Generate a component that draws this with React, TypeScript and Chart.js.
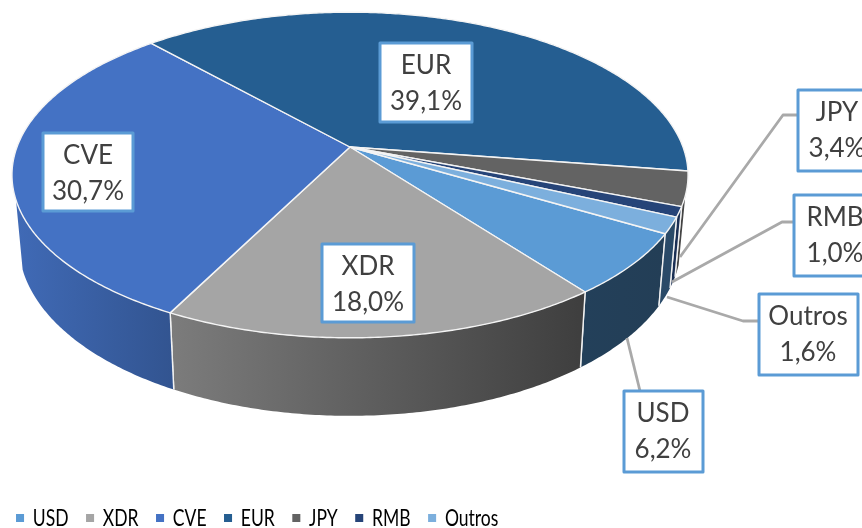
import React, { useEffect, useRef } from "react";
import { Chart, registerables } from "chart.js";

Chart.register(...registerables);

const categories = ["USD", "XDR", "CVE", "EUR", "JPY", "RMB", "Outros"];
const shares = [6.2, 18.0, 30.7, 39.1, 3.4, 1.0, 1.6];
const valueLabels = ["6,2%", "18,0%", "30,7%", "39,1%", "3,4%", "1,0%", "1,6%"];
const faceColors = ["#5B9BD5", "#A5A5A5", "#4472C4", "#255E91", "#636363", "#264478", "#7CAFDD"];
const wallLeftColors = ["#23405A", "#7C7C7C", "#406AB6", "#1C4870", "#444444", "#1A2F54", "#2A4A68"];
const wallRightColors = ["#233E56", "#3E3E3E", "#325490", "#1C4870", "#444444", "#1A2F54", "#2A4A68"];

const labelFont = "26px Lato, sans-serif";
const labelBoxes = [
  { i: 0, x: 624, y: 391, w: 79, h: 81, tx: 663, leader: [[627, 338], [640, 391]] },
  { i: 1, x: 322, y: 244, w: 92, h: 78, tx: 368, leader: [] },
  { i: 2, x: 43, y: 133, w: 90, h: 78, tx: 88, leader: [] },
  { i: 3, x: 380, y: 43, w: 92, h: 79, tx: 426, leader: [] },
  { i: 4, x: 798, y: 90, w: 80, h: 81, tx: 837, leader: [[680, 257], [783, 115], [798, 115]] },
  { i: 5, x: 794, y: 195, w: 80, h: 81, tx: 835, leader: [[672, 282], [782, 222], [794, 222]] },
  { i: 6, x: 759, y: 294, w: 99, h: 81, tx: 808, leader: [[667, 297], [743, 321], [759, 321]] },
];

// Projection of the pie plane
const CX = 350;
const CY = 147;
const RX = 333;
const RY = 158;
const K = 0.172;
const WALL_FROM = (17 * Math.PI) / 180;
const WALL_TO = (161.5 * Math.PI) / 180;
// The reference's legend type is tall and narrow
const LEGEND_SQUEEZE = 0.73;

function topPoint(a: number): [number, number] {
  const u = Math.cos(a);
  const v = Math.sin(a);
  const w = 1 - K * v;
  return [CX + (RX * u) / w, CY + (RY * v) / w];
}
function bottomPoint(a: number): [number, number] {
  const [x, y] = topPoint(a);
  const v = Math.sin(a);
  return [CX + (x - CX) * 0.98, y + 66 + 12 * v];
}

const pie3d = {
  id: "pie3d",
  afterLayout(chart: any) {
    const legend = chart.legend;
    legend.top = 482;
    legend.bottom = legend.top + legend.height;
    if (!legend.__squeezed) {
      legend.__squeezed = true;
      const draw = legend.draw;
      legend.draw = function (...args: any[]) {
        const ctx = chart.ctx;
        ctx.save();
        ctx.translate(-1.5, 0);
        ctx.scale(LEGEND_SQUEEZE, 1);
        draw.apply(legend, args);
        ctx.restore();
      };
    }
  },
  beforeDatasetsDraw(chart: any) {
    const ctx: CanvasRenderingContext2D = chart.ctx;
    const arcs = chart.getDatasetMeta(0).data;

    // side walls
    arcs.forEach((arc: any, i: number) => {
      for (const off of [0, -2 * Math.PI]) {
        const s = Math.max(arc.startAngle + off, WALL_FROM);
        const e = Math.min(arc.endAngle + off, WALL_TO);
        if (e <= s) continue;
        const n = Math.max(2, Math.ceil((e - s) / 0.01));
        const top: [number, number][] = [];
        const bot: [number, number][] = [];
        for (let j = 0; j <= n; j++) {
          const a = s + ((e - s) * j) / n;
          top.push(topPoint(a));
          bot.push(bottomPoint(a));
        }
        const xs = top.concat(bot).map((p) => p[0]);
        const g = ctx.createLinearGradient(Math.min(...xs), 0, Math.max(...xs), 0);
        g.addColorStop(0, wallLeftColors[i]);
        g.addColorStop(1, wallRightColors[i]);
        ctx.beginPath();
        top.forEach((p, j) => (j ? ctx.lineTo(p[0], p[1]) : ctx.moveTo(p[0], p[1])));
        bot.reverse().forEach((p) => ctx.lineTo(p[0], p[1]));
        ctx.closePath();
        ctx.fillStyle = g;
        ctx.fill();
        // white seams between walls
        ctx.strokeStyle = "#F2F2F2";
        ctx.lineWidth = 1.4;
        for (const a of [s, e]) {
          if (a === WALL_FROM || a === WALL_TO) continue;
          const p = topPoint(a);
          const q = bottomPoint(a);
          ctx.beginPath();
          ctx.moveTo(p[0], p[1]);
          ctx.lineTo(q[0], q[1]);
          ctx.stroke();
        }
      }
    });

    // top faces
    arcs.forEach((arc: any) => {
      const n = Math.max(2, Math.ceil((arc.endAngle - arc.startAngle) / 0.01));
      ctx.beginPath();
      ctx.moveTo(CX, CY);
      for (let j = 0; j <= n; j++) {
        const p = topPoint(arc.startAngle + ((arc.endAngle - arc.startAngle) * j) / n);
        ctx.lineTo(p[0], p[1]);
      }
      ctx.closePath();
      ctx.fillStyle = arc.options.backgroundColor;
      ctx.fill();
      ctx.strokeStyle = "#F4F4F4";
      ctx.lineWidth = 1.4;
      ctx.lineJoin = "round";
      ctx.stroke();
    });

    // leaders and labels
    ctx.strokeStyle = "#A9A9A9";
    ctx.lineWidth = 2.8;
    labelBoxes.forEach((b) => {
      if (!b.leader.length) return;
      ctx.beginPath();
      b.leader.forEach((p, j) => (j ? ctx.lineTo(p[0], p[1]) : ctx.moveTo(p[0], p[1])));
      ctx.stroke();
    });
    labelBoxes.forEach((b) => {
      ctx.fillStyle = "#FFFFFF";
      ctx.fillRect(b.x, b.y, b.w, b.h);
      ctx.strokeStyle = "#5B9BD5";
      ctx.lineWidth = 3;
      ctx.strokeRect(b.x, b.y, b.w, b.h);
      ctx.fillStyle = "#404040";
      ctx.font = labelFont;
      ctx.textAlign = "center";
      ctx.textBaseline = "middle";
      ctx.fillText(categories[b.i], b.tx, b.y + 23);
      ctx.fillText(valueLabels[b.i], b.tx, b.y + 59);
    });
    return false;
  },
};

export default function App() {
  const ref = useRef<HTMLCanvasElement>(null);
  useEffect(() => {
    document.body.style.margin = "0";
    const chart = new Chart(ref.current as HTMLCanvasElement, {
      type: "pie",
      data: {
        labels: categories,
        datasets: [{ data: shares, backgroundColor: faceColors, borderWidth: 0 }],
      },
      options: {
        animation: false,
        responsive: false,
        rotation: 120.1,
        plugins: {
          tooltip: { enabled: false },
          legend: {
            position: "bottom",
            align: "start",
            labels: {
              boxWidth: 11,
              boxHeight: 8,
              padding: 24,
              color: "#595959",
              font: { family: "Lato, sans-serif", size: 24 },
              generateLabels: () =>
                categories.map((text, index) => ({
                  text,
                  index,
                  fillStyle: faceColors[index],
                  strokeStyle: faceColors[index],
                  lineWidth: 0,
                  hidden: false,
                })),
            },
          },
        },
      } as any,
      plugins: [pie3d as any],
    });
    return () => chart.destroy();
  }, []);
  return <canvas ref={ref} width={862} height={528} style={{ display: "block", filter: "blur(0.4px)" }} />;
}
